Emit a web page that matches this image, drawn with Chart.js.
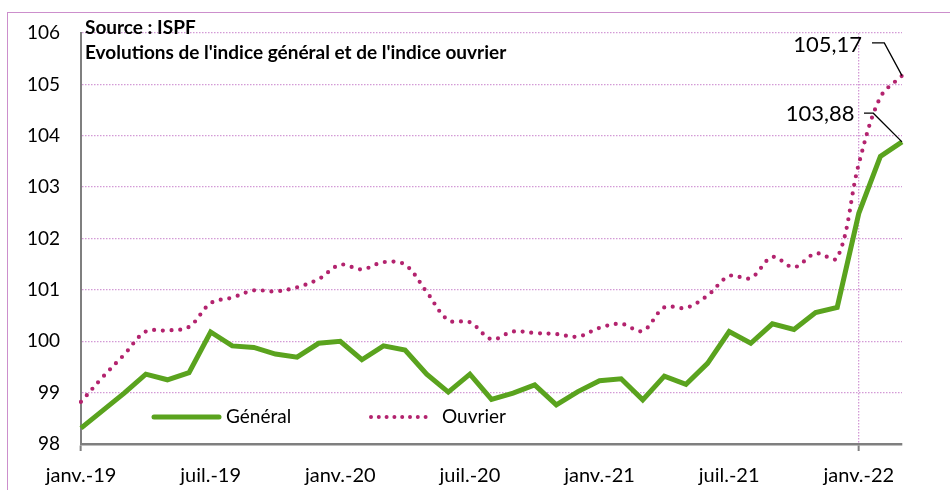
<!DOCTYPE html>
<html>
<head>
<meta charset="utf-8">
<script src="https://cdn.jsdelivr.net/npm/chart.js@4.4.1/dist/chart.umd.min.js"></script>
<style>
  html, body { margin: 0; padding: 0; background: #fff; overflow: hidden; }
  #wrap { position: relative; width: 950px; height: 490px; overflow: hidden; }
  #frame { position: absolute; left: 7px; top: 12px; width: 960px; height: 490px; border-left: 1.5px solid #cc8fcc; border-top: 1.5px solid #cc8fcc; box-sizing: border-box; }
  canvas { position: absolute; left: 0; top: 0; }
</style>
</head>
<body>
<div id="wrap">
  <div id="frame"></div>
  <canvas id="chart" width="950" height="490"></canvas>
</div>
<script>
// Données (janv.-19 à mars-22)
const mois = ['janv.', 'févr.', 'mars', 'avr.', 'mai', 'juin', 'juil.', 'août', 'sept.', 'oct.', 'nov.', 'déc.'];
const annees = ['19', '20', '21', '22'];
const labels = [];
annees.forEach(a => mois.forEach(m => labels.push(m + '-' + a)));
labels.length = 39;

const general = [98.31, 98.65, 98.99, 99.36, 99.25, 99.39, 100.18, 99.91, 99.88, 99.75, 99.69, 99.96,
  100.00, 99.64, 99.91, 99.83, 99.36, 99.01, 99.36, 98.87, 98.99, 99.15, 98.76, 99.02,
  99.23, 99.27, 98.86, 99.32, 99.16, 99.57, 100.19, 99.96, 100.34, 100.23, 100.56, 100.66,
  102.49, 103.60, 103.88];
const ouvrier = [98.82, 99.30, 99.74, 100.19, 100.21, 100.28, 100.74, 100.85, 100.99, 100.97, 101.05, 101.21,
  101.49, 101.40, 101.54, 101.49, 100.96, 100.41, 100.37, 100.04, 100.19, 100.16, 100.14, 100.09,
  100.26, 100.34, 100.20, 100.66, 100.65, 100.89, 101.27, 101.23, 101.64, 101.44, 101.71, 101.62,
  103.45, 104.75, 105.17];

const titre1 = 'Source : ISPF';
const titre2 = "Evolutions de l'indice général et de l'indice ouvrier";

const VERT = '#5aa31e';
const ROSE = '#b3236e';
const GRILLE = '#d39ad6';
const GRIS = '#7f7f7f';
const POLICE = 'Lato';

// Titres, légende et étiquettes de fin de courbe
const decor = {
  id: 'decor',
  afterDatasetsDraw(chart) {
    const ctx = chart.ctx;
    ctx.save();
    ctx.fillStyle = '#000';
    ctx.textBaseline = 'middle';
    ctx.textAlign = 'left';
    ctx.font = 'bold 19px ' + POLICE;
    ctx.fillText(titre1, 85, 28);
    ctx.fillText(titre2, 85, 53);

    // légende
    ctx.lineWidth = 5;
    ctx.strokeStyle = VERT;
    ctx.lineCap = 'round';
    ctx.beginPath(); ctx.moveTo(154, 417); ctx.lineTo(219, 417); ctx.stroke();
    ctx.font = '19px ' + POLICE;
    ctx.fillText('Général', 226, 417);
    ctx.strokeStyle = ROSE;
    ctx.lineWidth = 4;
    ctx.setLineDash([0, 7.8]);
    ctx.beginPath(); ctx.moveTo(371, 417); ctx.lineTo(428, 417); ctx.stroke();
    ctx.setLineDash([]);
    ctx.fillText('Ouvrier', 442, 417);

    // étiquettes des dernières valeurs
    const etiq = (di, dxText, dyText, x1, x2, dy) => {
      const meta = chart.getDatasetMeta(di);
      const p = meta.data[meta.data.length - 1];
      const v = chart.data.datasets[di].data[meta.data.length - 1];
      ctx.strokeStyle = '#000';
      ctx.lineWidth = 1.3;
      ctx.lineCap = 'butt';
      ctx.beginPath();
      ctx.moveTo(p.x - x1, p.y - dy);
      ctx.lineTo(p.x - x2, p.y - dy);
      ctx.lineTo(p.x, p.y);
      ctx.stroke();
      ctx.font = '22px ' + POLICE;
      ctx.textAlign = 'right';
      ctx.fillText(v.toFixed(2).replace('.', ','), p.x - dxText, p.y + dyText);
    };
    etiq(1, 40, -31, 30, 17.7, 32.7);
    etiq(0, 47.4, -28, 38, 28.7, 28.7);
    ctx.restore();
  }
};

new Chart(document.getElementById('chart'), {
  type: 'line',
  data: {
    labels: labels,
    datasets: [
      {
        label: 'Général',
        data: general,
        borderColor: VERT,
        borderWidth: 5,
        pointRadius: 0,
        tension: 0,
        borderJoinStyle: 'miter',
        order: 2
      },
      {
        label: 'Ouvrier',
        data: ouvrier,
        borderColor: ROSE,
        borderWidth: 4.2,
        borderDash: [0, 8.7],
        borderCapStyle: 'round',
        pointRadius: 0,
        tension: 0.35,
        order: 1
      }
    ]
  },
  options: {
    responsive: false,
    animation: false,
    layout: { padding: { left: 0, right: 48, top: 33, bottom: 0 } },
    plugins: {
      legend: { display: false },
      tooltip: { enabled: false }
    },
    scales: {
      x: {
        offset: false,
        afterFit: s => { s.height = 46; },
        border: { color: GRIS, width: 2.5, dash: [1.5, 1.5] },
        grid: {
          color: c => (c.index % 6 === 0 && c.index > 0) ? GRILLE : 'rgba(0,0,0,0)',
          lineWidth: 1.3,
          tickLength: 7,
          tickColor: c => (c.index % 6 === 0) ? GRIS : 'rgba(0,0,0,0)',
          tickWidth: 2,
          tickBorderDash: []
        },
        ticks: {
          autoSkip: false,
          maxRotation: 0,
          padding: 13,
          color: '#000',
          font: { family: POLICE, size: 20 },
          callback: (v, i) => (i % 6 === 0 ? labels[i] : null)
        }
      },
      y: {
        min: 98,
        max: 106,
        afterFit: s => { s.width = 81; },
        border: { color: GRIS, width: 2, dash: [1.5, 1.5] },
        grid: {
          color: c => (c.tick.value > 98 ? GRILLE : 'rgba(0,0,0,0)'),
          lineWidth: 1.3,
          drawTicks: false
        },
        ticks: {
          stepSize: 1,
          padding: 21,
          color: '#000',
          font: { family: POLICE, size: 19 }
        }
      }
    }
  },
  plugins: [decor]
});
</script>
</body>
</html>
